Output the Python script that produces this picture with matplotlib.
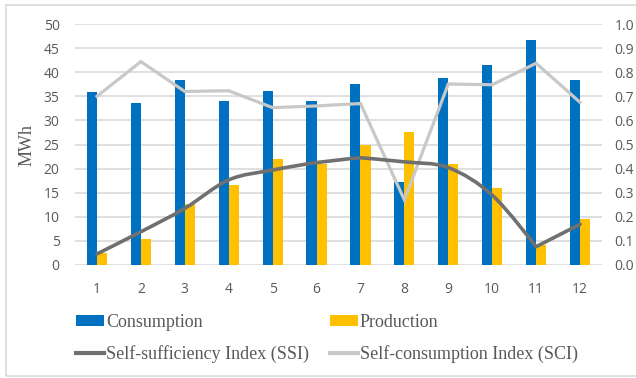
import matplotlib
matplotlib.use("Agg")
import matplotlib.pyplot as plt
import numpy as np
from matplotlib.path import Path
from matplotlib.patches import PathPatch, Rectangle, Patch
from matplotlib.lines import Line2D
from matplotlib.ticker import FormatStrFormatter, MultipleLocator

months = [1, 2, 3, 4, 5, 6, 7, 8, 9, 10, 11, 12]
consumption = [35.9, 33.7, 38.3, 34.0, 36.2, 34.0, 37.5, 17.3, 38.7, 41.4, 46.7, 38.4]
production = [2.4, 5.4, 12.6, 16.6, 21.9, 21.0, 24.8, 27.6, 21.0, 15.9, 4.2, 9.5]
ssi = [0.046, 0.138, 0.235, 0.353, 0.394, 0.425, 0.445, 0.428, 0.404, 0.29, 0.076, 0.169]
sci = [0.70, 0.844, 0.72, 0.723, 0.653, 0.66, 0.67, 0.27, 0.751, 0.748, 0.837, 0.675]

C_BLUE = "#0070C0"
C_YEL = "#FFC000"
C_SSI = "#707070"
C_SCI = "#C8C8C8"
C_GRID = "#D9D9D9"
C_TXT = "#595959"

fig = plt.figure(figsize=(6.36, 3.78), dpi=100)
W, H = 636, 378
ax = fig.add_axes([75 / W, 1 - 265 / H, (602 - 75) / W, (265 - 24) / H])
ax2 = ax.twinx()

x = np.array(months, dtype=float)
w = 0.23
ax.bar(x - w / 2, consumption, width=w, color=C_BLUE, zorder=2)
ax.bar(x + w / 2, production, width=w, color=C_YEL, zorder=2)

ax.set_xlim(0.5, 12.5)
ax.set_ylim(0, 50)
ax.yaxis.set_major_locator(MultipleLocator(5))
ax.set_xticks(months)
ax.grid(axis="y", color=C_GRID, linewidth=1.2, zorder=0)
ax.set_axisbelow(True)
for s in ax.spines.values():
    s.set_visible(False)
for s in ax2.spines.values():
    s.set_visible(False)
ax.tick_params(axis="y", length=0, pad=11, labelsize=10, labelcolor=C_TXT)
ax.tick_params(axis="x", length=0, pad=12, labelsize=10, labelcolor=C_TXT)
for lab in ax.get_xticklabels() + ax.get_yticklabels():
    lab.set_family("Open Sans")
ax.set_ylabel("MWh", family="Liberation Serif", fontsize=13, color=C_TXT, labelpad=6)

ax2.set_ylim(0, 1.0)
ax2.yaxis.set_major_locator(MultipleLocator(0.1))
ax2.yaxis.set_major_formatter(FormatStrFormatter("%.1f"))
ax2.tick_params(axis="y", length=0, pad=9, labelsize=10, labelcolor=C_TXT)
for lab in ax2.get_yticklabels():
    lab.set_family("Open Sans")

# smoothed SSI curve (Catmull-Rom -> Bezier through data points, corners at extrema)
px = x
py = np.array(ssi)
n = len(px)
tang = []
for i in range(n):
    a = max(i - 1, 0)
    b = min(i + 1, n - 1)
    t = np.array([px[b] - px[a], py[b] - py[a]]) / 6.0
    if 0 < i < n - 1 and (py[i] - py[i - 1]) * (py[i + 1] - py[i]) < 0:
        t = np.zeros(2)
    tang.append(t)
verts = [(px[0], py[0])]
codes = [Path.MOVETO]
for i in range(n - 1):
    p1 = np.array([px[i], py[i]])
    p2 = np.array([px[i + 1], py[i + 1]])
    c1 = p1 + tang[i]
    c2 = p2 - tang[i + 1]
    verts += [tuple(c1), tuple(c2), tuple(p2)]
    codes += [Path.CURVE4] * 3
ax2.add_patch(PathPatch(Path(verts, codes), facecolor="none", edgecolor=C_SSI,
                        linewidth=2.6, capstyle="round", joinstyle="round", zorder=4))
ax2.plot(x, sci, color=C_SCI, linewidth=2.3, zorder=3, solid_joinstyle="miter")

handles = [
    Patch(facecolor=C_BLUE, edgecolor="none"),
    Line2D([0], [0], color=C_SSI, linewidth=3),
    Patch(facecolor=C_YEL, edgecolor="none"),
    Line2D([0], [0], color=C_SCI, linewidth=3),
]
labels = ["Consumption", "Self-sufficiency Index (SSI)", "Production", "Self-consumption Index (SCI)"]
fig.legend(handles, labels, ncol=2, loc="upper left", bbox_to_anchor=(76 / W, 1 - 314 / H),
           frameon=False, borderpad=0, borderaxespad=0,
           prop={"family": "Liberation Serif", "size": 13},
           handlelength=1.55, handleheight=0.55, handletextpad=0.1,
           columnspacing=1.17, labelspacing=0.8, labelcolor=C_TXT)

fig.patches.append(Rectangle((6 / W, 1 - 376 / H), 640 / W, (376 - 4.5) / H,
                             transform=fig.transFigure, facecolor="none",
                             edgecolor=C_GRID, linewidth=1.2))

fig.savefig("out.png", dpi=100)
